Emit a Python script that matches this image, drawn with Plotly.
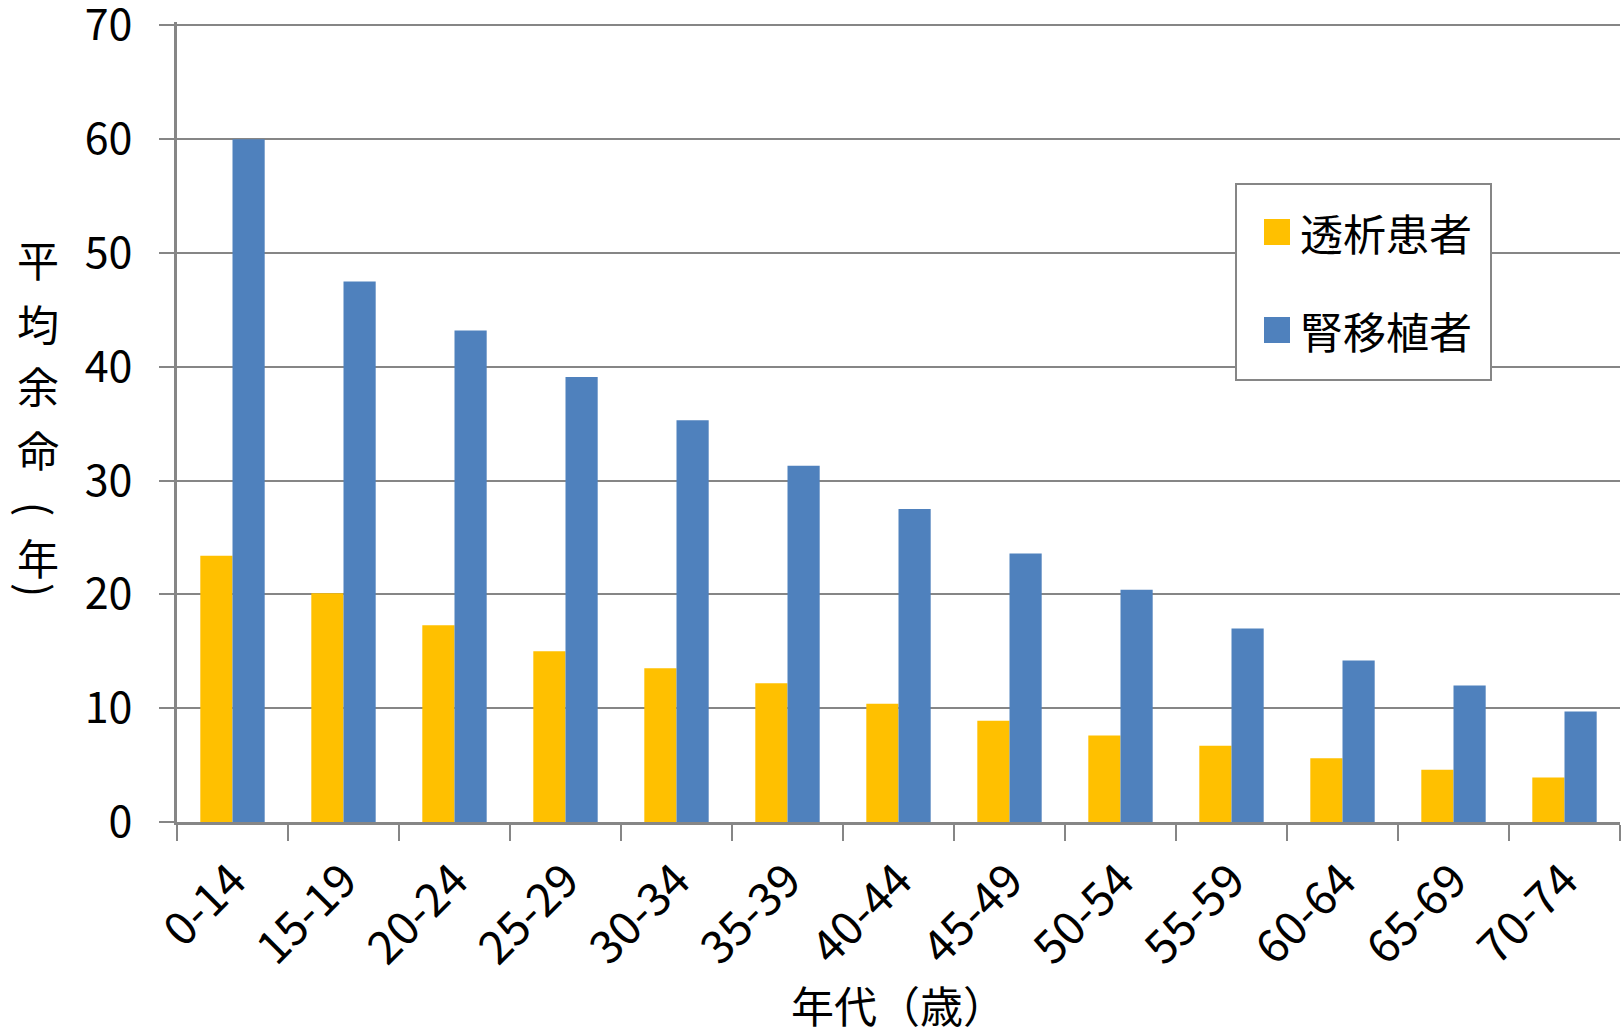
import plotly.graph_objects as go

# Remaining life expectancy by age group
age_groups = ["0-14", "15-19", "20-24", "25-29", "30-34", "35-39", "40-44",
              "45-49", "50-54", "55-59", "60-64", "65-69", "70-74"]
dialysis = [23.4, 20.1, 17.3, 15.0, 13.5, 12.2, 10.4, 8.9, 7.6, 6.7, 5.6, 4.6, 3.9]
transplant = [60.0, 47.5, 43.2, 39.1, 35.3, 31.3, 27.5, 23.6, 20.4, 17.0, 14.2, 12.0, 9.7]
series_names = ["透析患者", "腎移植者"]
series_colors = ["#FFC000", "#4F81BD"]
y_ticks = [0, 10, 20, 30, 40, 50, 60, 70]
x_title = "年代（歳）"
# vertical title: characters top to bottom, brackets drawn rotated
y_title_chars = ["平", "均", "余", "命", "(", "年", ")"]
y_title_angles = [0, 0, 0, 0, 90, 0, 90]

W, H = 1622, 1035
L, R, T, B = 177, 2, 22, 213
PW, PH = W - L - R, H - T - B
FONT = "Noto Sans CJK JP"
GRID = "#868686"


def px_x(x):
    return (x - L) / PW


def px_y(y):
    return (H - B - y) / PH


fig = go.Figure()
for name, vals, col in zip(series_names, [dialysis, transplant], series_colors):
    fig.add_trace(go.Bar(x=age_groups, y=vals, name=name, marker_color=col,
                         marker_line_width=0, showlegend=False))

fig.update_layout(
    width=W, height=H,
    margin=dict(l=L, r=R, t=T, b=B, pad=0, autoexpand=False),
    paper_bgcolor="white", plot_bgcolor="white",
    barmode="group", bargap=0.42, bargroupgap=0,
    font=dict(family=FONT, size=42, color="black"),
    xaxis=dict(
        type="category", tickson="boundaries", ticks="outside", ticklen=16,
        tickwidth=2, tickcolor=GRID, showline=True, linecolor=GRID, linewidth=3,
        showgrid=False, tickangle=-45, tickfont=dict(size=46),
        ticklabelstandoff=10, automargin=False,
    ),
    yaxis=dict(
        range=[0, 70.3], tickvals=y_ticks, ticks="outside", ticklen=15,
        tickwidth=2, tickcolor=GRID, showline=True, linecolor=GRID, linewidth=3,
        showgrid=True, gridcolor=GRID, gridwidth=2, zeroline=False,
        tickfont=dict(size=43), ticklabelstandoff=18, ticklabeloverflow="allow",
        automargin=False,
    ),
)

# Axis titles
fig.add_annotation(text=x_title, x=0.5, y=px_y(1004), xref="paper", yref="paper",
                   xanchor="center", yanchor="middle", showarrow=False,
                   font=dict(size=43))
char_y = [258, 322, 384, 448, 509, 556, 590]
for ch, ang, cy in zip(y_title_chars, y_title_angles, char_y):
    fig.add_annotation(text=ch, x=px_x(38), y=px_y(cy), xref="paper", yref="paper",
                       xanchor="center", yanchor="middle", showarrow=False,
                       textangle=ang, font=dict(size=42))

# Legend box
fig.add_shape(type="rect", xref="paper", yref="paper",
              x0=px_x(1236), x1=px_x(1491), y0=px_y(380), y1=px_y(184),
              line=dict(color=GRID, width=2), fillcolor="white", layer="above")
for i, (name, col) in enumerate(zip(series_names, series_colors)):
    cy = 232 + 98 * i
    fig.add_shape(type="rect", xref="paper", yref="paper",
                  x0=px_x(1264), x1=px_x(1290), y0=px_y(cy + 13), y1=px_y(cy - 13),
                  line=dict(width=0), fillcolor=col, layer="above")
    fig.add_annotation(text=name, x=px_x(1298), y=px_y(cy), xref="paper", yref="paper",
                       xanchor="left", yanchor="middle", showarrow=False,
                       font=dict(size=43))

fig.write_html("out.html")
